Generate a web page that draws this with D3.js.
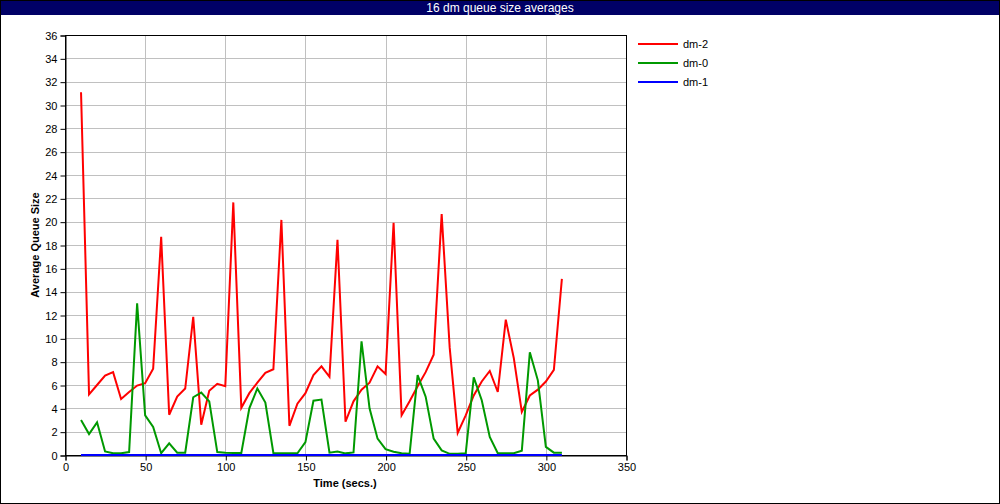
<!DOCTYPE html>
<html><head><meta charset="utf-8">
<script src="https://cdn.jsdelivr.net/npm/d3@7"></script>
<style>body{margin:0;background:#fff}svg{display:block}text{font-family:"Liberation Sans",Arial,sans-serif}</style>
</head><body>
<script>
const title = "16 dm queue size averages";
const times = [10,15,20,25,30,35,40,45,50,55,60,65,70,75,80,85,90,95,100,105,110,115,120,125,130,135,140,145,150,155,160,165,170,175,180,185,190,195,200,205,210,215,220,225,230,235,240,245,250,255,260,265,270,275,280,285,290,295,300,305,310];
const dm2 = [31.1,5.2,6.0,6.8,7.1,4.8,5.4,5.95,6.15,7.4,18.7,3.45,5.0,5.7,11.85,2.6,5.5,6.1,5.9,21.65,4.05,5.3,6.2,7.05,7.35,20.15,2.5,4.4,5.3,6.85,7.6,6.7,18.45,2.85,4.6,5.6,6.2,7.6,6.95,19.9,3.4,4.6,5.9,7.1,8.6,20.65,9.2,1.9,3.4,5.1,6.3,7.2,5.4,11.6,8.3,3.7,5.1,5.6,6.3,7.3,15.1];
const dm0 = [3.0,1.8,2.8,0.3,0.15,0.15,0.25,13.0,3.4,2.4,0.15,1.0,0.2,0.2,4.95,5.35,4.6,0.25,0.2,0.18,0.18,4.0,5.7,4.5,0.17,0.14,0.14,0.14,1.1,4.65,4.75,0.2,0.3,0.14,0.22,9.75,4.0,1.4,0.5,0.28,0.15,0.1,6.85,5.0,1.4,0.4,0.1,0.1,0.14,6.65,4.7,1.55,0.15,0.15,0.15,0.37,8.8,6.4,0.7,0.2,0.2];
const dm1 = times.map(()=>0);
const seriesNames = ["dm-2","dm-0","dm-1"];
const seriesColors = ["#ff0000","#009900","#0000ff"];
const yTicks = d3.range(0,37,2);
const xTicks = [0,50,100,150,200,250,300,350];

const W=1000,H=504;
const svg=d3.select("body").append("svg").attr("width",W).attr("height",H);
svg.append("rect").attr("x",0.5).attr("y",0.5).attr("width",W-1).attr("height",H-1).attr("fill","#fff").attr("stroke","#000");
svg.append("rect").attr("x",1).attr("y",1).attr("width",W-2).attr("height",14).attr("fill","#000066");
svg.append("text").attr("x",500).attr("y",12).attr("text-anchor","middle").attr("fill","#fff").attr("font-size",12).text(title);

const L=65,R=626,T=35,B=455;
const x=d3.scaleLinear().domain([0,350]).range([L,R]);
const y=d3.scaleLinear().domain([0,36]).range([B,T]);

const g=svg.append("g");
// grid
g.selectAll(".gy").data(yTicks.filter(d=>d>0&&d<36)).join("line").attr("x1",L).attr("x2",R).attr("y1",d=>Math.round(y(d))+0.5).attr("y2",d=>Math.round(y(d))+0.5).attr("stroke","#c0c0c0");
g.selectAll(".gx").data(xTicks.filter(d=>d>0&&d<350)).join("line").attr("y1",T).attr("y2",B).attr("x1",d=>Math.round(x(d))+0.5).attr("x2",d=>Math.round(x(d))+0.5).attr("stroke","#c0c0c0");

// axes
const yAxis=d3.axisLeft(y).tickValues(yTicks).tickSize(5).tickPadding(3);
const xAxis=d3.axisBottom(x).tickValues(xTicks).tickSize(5).tickPadding(3);
const ya=svg.append("g").attr("transform",`translate(${L+0.5},0.5)`).call(yAxis);
const xa=svg.append("g").attr("transform",`translate(0.5,${B+0.5})`).call(xAxis);
[ya,xa].forEach(a=>{a.select(".domain").attr("stroke","#000");a.selectAll("line").attr("stroke","#000");a.selectAll("text").attr("font-size",11).attr("fill","#000").attr("font-family","Liberation Sans, Arial, sans-serif");});
// frame
svg.append("rect").attr("x",L+0.5).attr("y",T+0.5).attr("width",R-L).attr("height",B-T).attr("fill","none").attr("stroke","#000");

// lines
const allSeries=[dm2,dm0,dm1];
const line=d3.line().x((d,i)=>x(times[i])).y(d=>y(d));
allSeries.forEach((s,k)=>{
  svg.append("path").datum(s).attr("d",line).attr("fill","none").attr("stroke",seriesColors[k]).attr("stroke-width",2).attr("stroke-linejoin","miter");
});

// axis titles
svg.append("text").attr("x",345).attr("y",487).attr("text-anchor","middle").attr("font-size",11).attr("font-weight","bold").text("Time (secs.)");
svg.append("text").attr("transform","translate(39,245) rotate(-90)").attr("text-anchor","middle").attr("font-size",11).attr("font-weight","bold").text("Average Queue Size");

// legend
const lg=svg.append("g");
seriesNames.forEach((n,i)=>{
  const yy=44+i*19;
  lg.append("line").attr("x1",638).attr("x2",678).attr("y1",yy).attr("y2",yy).attr("stroke",seriesColors[i]).attr("stroke-width",2);
  lg.append("text").attr("x",683).attr("y",yy+4).attr("font-size",11).text(n);
});
</script>
</body></html>
